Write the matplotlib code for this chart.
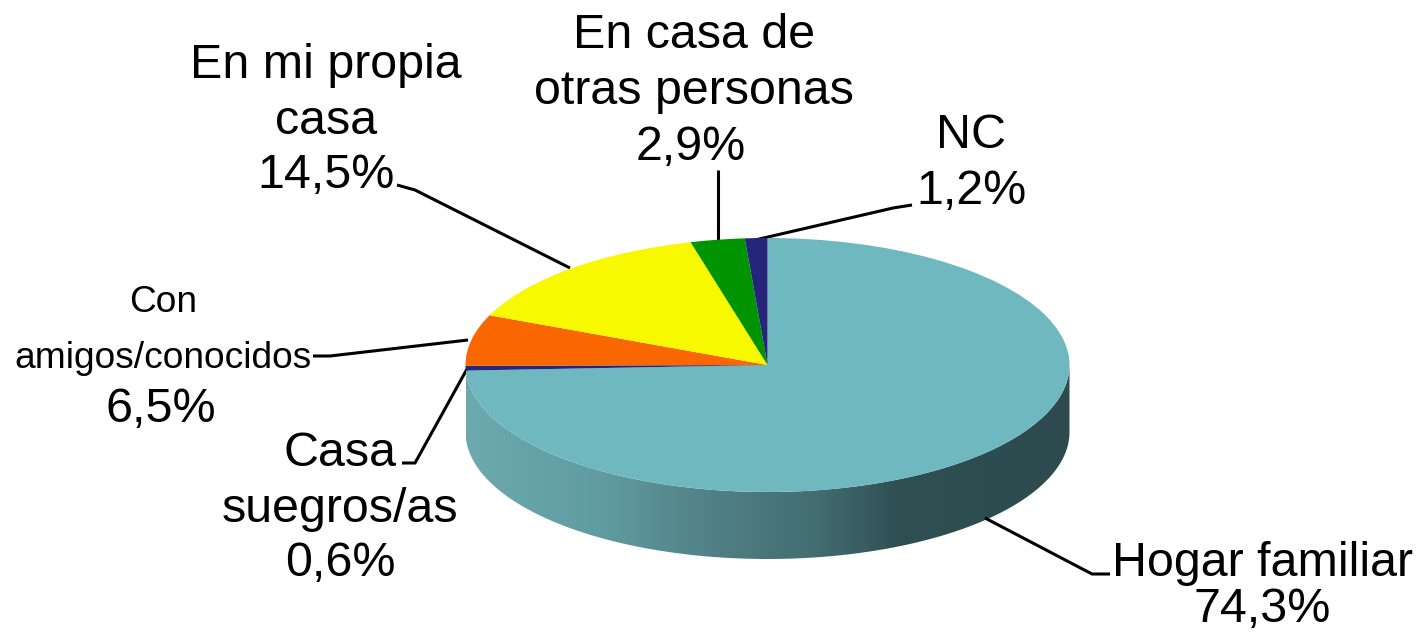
import numpy as np
import matplotlib
matplotlib.use("Agg")
import matplotlib.pyplot as plt
from matplotlib.colors import LinearSegmentedColormap
from matplotlib.patches import PathPatch
from matplotlib.path import Path

plt.rcParams['font.family'] = ['Liberation Sans', 'DejaVu Sans']

categories = ["Hogar familiar", "Casa suegros/as", "Con amigos/conocidos",
              "En mi propia casa", "En casa de otras personas", "NC"]
values = [74.3, 0.6, 6.5, 14.5, 2.9, 1.2]
colors = ["#6FB8BF", "#25267A", "#FA6600", "#F8F800", "#009400", "#25267A"]

W, H = 1417, 633
CX, CY, RX, RY, DEPTH = 767.5, 365, 302, 127, 67

fig = plt.figure(figsize=(W / 100, H / 100), dpi=100, facecolor="white")
bg = fig.add_axes([0, 0, 1, 1])
bg.set_xlim(0, W)
bg.set_ylim(H, 0)
bg.axis("off")

# extruded side wall with horizontal gradient
stops = [(0.0, "#6CAAB0"), (0.22, "#609CA1"), (0.42, "#4F7F84"), (0.58, "#436D71"),
         (0.72, "#2F4F52"), (1.0, "#2D4B4F")]
cmap = LinearSegmentedColormap.from_list("side", stops)
t = np.linspace(np.pi, 0, 200)
xs = CX + RX * np.cos(t)
ytop = CY + RY * np.sin(t)
ybot = ytop + DEPTH
verts = np.r_[np.c_[xs, ytop], np.c_[xs, ybot][::-1], [[xs[0], ytop[0]]]]
codes = [Path.MOVETO] + [Path.LINETO] * (len(verts) - 2) + [Path.CLOSEPOLY]
clip = PathPatch(Path(verts, codes), fc="none", ec="none", transform=bg.transData)
bg.add_patch(clip)
im = bg.imshow(np.linspace(0, 1, 256)[None, :], cmap=cmap, aspect="auto",
               extent=(CX - RX, CX + RX, CY + RY + DEPTH, CY), zorder=1)
im.set_clip_path(clip)
bg.set_xlim(0, W)
bg.set_ylim(H, 0)

# top face: pie on an axes stretched to the ellipse
pie_ax = fig.add_axes([(CX - RX) / W, 1 - (CY + RY) / H, 2 * RX / W, 2 * RY / H], zorder=2)
pie_ax.patch.set_alpha(0)
pie_ax.pie(values, colors=colors, startangle=90, counterclock=False, radius=1,
           wedgeprops=dict(linewidth=0))
pie_ax.set_aspect("auto")
pie_ax.set_xlim(-1, 1)
pie_ax.set_ylim(-1, 1)

# leader lines
leaders = [
    ([1110, 1092, 985], [574, 574, 518]),
    ([402, 415, 467], [463, 463, 369]),
    ([313, 330, 468], [356, 356, 340]),
    ([397, 415, 570], [185, 190, 268]),
    ([718, 718], [170, 240]),
    ([912, 893, 755], [205, 208, 240]),
]
for lx, ly in leaders:
    bg.plot(lx, ly, color="black", lw=2.2, zorder=3, solid_capstyle="butt")

# labels
label_lines = [
    ("Hogar familiar", 1263, 563, 34.8), ("74,3%", 1262, 610, 34.8),
    ("Casa", 340, 453, 34.8), ("suegros/as", 340, 509, 34.8), ("0,6%", 340, 564, 34.8),
    ("Con", 163, 303, 26.7), ("amigos/conocidos", 163, 359, 26.7), ("6,5%", 161, 410, 34.8),
    ("En mi propia", 326, 65, 34.8), ("casa", 326, 121, 34.8), ("14,5%", 326, 175, 34.8),
    ("En casa de", 694, 36, 34.8), ("otras personas", 694, 91, 34.8), ("2,9%", 691, 147, 34.8),
    ("NC", 971, 135, 34.8), ("1,2%", 971, 191, 34.8),
]
for txt, x, y, size in label_lines:
    bg.text(x, y, txt, ha="center", va="center", fontsize=size, color="black", zorder=4,
            clip_on=False)

fig.savefig("out.png", dpi=100, facecolor="white")
